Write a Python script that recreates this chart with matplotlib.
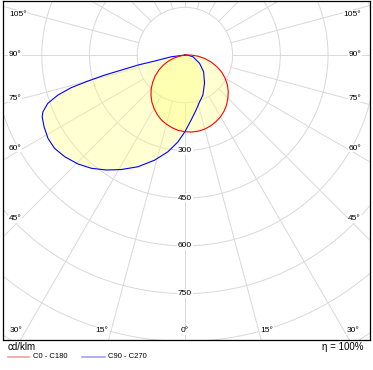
import numpy as np
import matplotlib.pyplot as plt

plt.rcParams['font.family'] = ['Liberation Sans', 'DejaVu Sans']

# C0 - C180 plane, gamma in degrees (negative = C180 side), cd/klm
red_gamma = [-90, -85, -80, -75, -70, -65, -60, -55, -50, -45, -40, -35, -30, -25, -20, -15, -10, -5,
             0, 5, 10, 15, 20, 25, 30, 35, 40, 45, 50, 55, 60, 65, 70, 75, 80, 85, 90]
red_cd = [0, 0, 13, 34, 55, 75, 95, 114, 132, 150, 166, 181, 194, 206, 217, 225, 232, 238,
          241, 243, 243, 241, 237, 231, 224, 215, 204, 191, 178, 163, 146, 128, 107, 86, 64, 42, 20]

# C90 - C270 plane (negative = C270 side)
blue_gamma = [-90, -82.9, -78.8, -78.0, -76.7, -76.0, -75.0, -74.0, -72.5, -70.6, -68.2, -66.6,
              -63.0, -58.7, -54.4, -49.8, -44.5, -39.6, -34.4, -29.1, -22.8, -16.1, -10.0, -4.6,
              0, 5.5, 11.6, 17.5, 24.2, 34.8, 48.2, 60.5, 78, 90]
blue_cd = [0, 43, 97, 151, 206, 260, 316, 372, 419, 457, 481, 489,
           497, 504, 504, 495, 480, 462, 438, 412, 381, 344, 309, 274,
           241, 205, 176, 154, 138, 108, 79, 53, 26, 8]

rings = [150, 300, 450, 600, 750, 900, 1050]
ring_labels = ['300', '450', '600', '750']
side_labels = ['105°', '90°', '75°', '60°', '45°']
bottom_labels = ['30°', '15°', '0°', '15°', '30°']

W, H = 373, 370
fig = plt.figure(figsize=(W / 100, H / 100), dpi=100)
ax = fig.add_axes([3 / W, 30 / H, 367 / W, 339 / H])
ax.set_xlim(-572, 582)
ax.set_ylim(-896, 170)
ax.set_xticks([])
ax.set_yticks([])
for s in ax.spines.values():
    s.set_linewidth(0.9)
    s.set_color('black')

grid_c = '#d9d9d9'
t = np.linspace(0, 2 * np.pi, 400)
for r in rings:
    ax.plot(r * np.cos(t), r * np.sin(t), color=grid_c, lw=0.7, zorder=1)
for a in range(0, 360, 15):
    g = np.radians(a)
    ax.plot([150 * np.sin(g), 1300 * np.sin(g)], [-150 * np.cos(g), -1300 * np.cos(g)],
            color=grid_c, lw=0.7, zorder=1)


def to_xy(gamma, cd):
    g = np.radians(np.array(gamma))
    r = np.array(cd, dtype=float)
    x = np.concatenate([[0], r * np.sin(g), [0]])
    y = np.concatenate([[0], -r * np.cos(g), [0]])
    return x, y


rx, ry = to_xy(red_gamma, red_cd)
bx, by = to_xy(blue_gamma, blue_cd)
ax.fill(bx, by, color='#ffff70', alpha=0.32, lw=0, zorder=2)
ax.fill(rx, ry, color='#ffff70', alpha=0.32, lw=0, zorder=2)
ax.plot(bx, by, color='#0000ff', lw=0.8, zorder=3)
ax.plot(rx, ry, color='#ff0000', lw=0.8, zorder=3)

for lab in ring_labels:
    ax.text(0, -int(lab), lab, ha='center', va='center', fontsize=6, zorder=4,
            bbox=dict(fc='white', ec='none', pad=0.4))

# angle labels (pixel positions)
side_y = [14, 54, 98, 148, 219]
for lab, yy in zip(side_labels, side_y):
    fig.text(9 / W, 1 - yy / H, lab, ha='left', va='center', fontsize=6,
             bbox=dict(fc='white', ec='none', pad=0.4), zorder=5)
    fig.text(361 / W, 1 - yy / H, lab, ha='right', va='center', fontsize=6,
             bbox=dict(fc='white', ec='none', pad=0.4), zorder=5)
bottom_x = [16, 102, 185, 267, 353]
for lab, xx in zip(bottom_labels, bottom_x):
    fig.text(xx / W, 1 - 331 / H, lab, ha='center', va='center', fontsize=6,
             bbox=dict(fc='white', ec='none', pad=0.4), zorder=5)

# footer
fig.text(8 / W, 1 - 347 / H, 'cd/klm', ha='left', va='center', fontsize=7)
fig.text(364 / W, 1 - 347 / H, 'η = 100%', ha='right', va='center', fontsize=7)
fig.add_artist(plt.Line2D([8 / W, 29 / W], [1 - 357 / H] * 2, color='#f4a0a0', lw=1.2))
fig.text(33 / W, 1 - 357 / H, 'C0 - C180', ha='left', va='center', fontsize=5.5)
fig.add_artist(plt.Line2D([82 / W, 105 / W], [1 - 357 / H] * 2, color='#a0a0f4', lw=1.2))
fig.text(108 / W, 1 - 357 / H, 'C90 - C270', ha='left', va='center', fontsize=5.5)

fig.savefig('out.png', dpi=100)
